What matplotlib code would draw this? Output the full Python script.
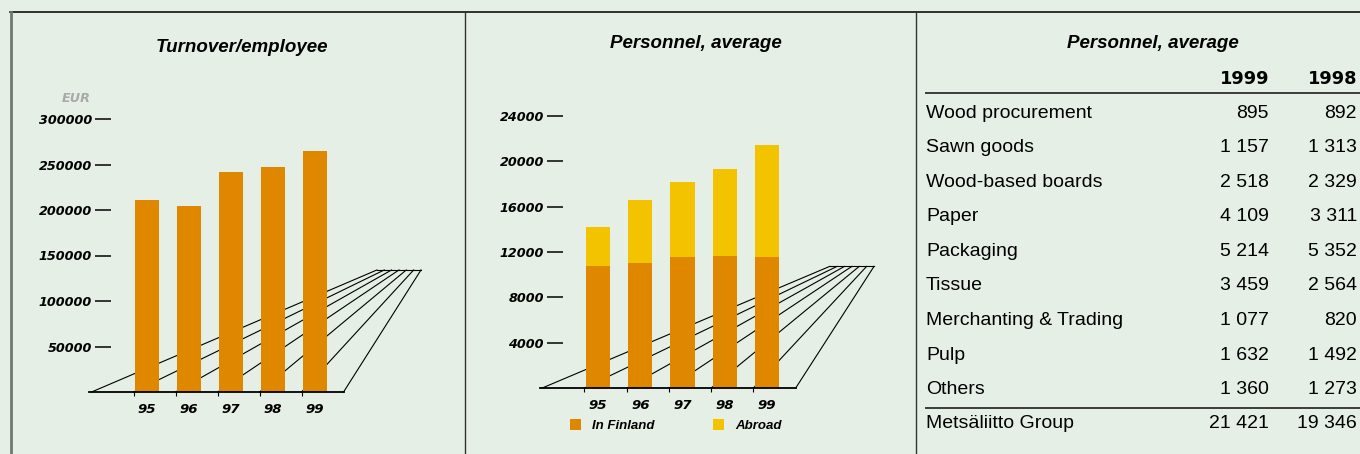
import numpy as np
import matplotlib
matplotlib.use('Agg')
import matplotlib.pyplot as plt
from matplotlib.lines import Line2D

W, H = 1360, 454

# Turnover per employee, EUR
years = ['95', '96', '97', '98', '99']
turnover_per_employee = [211000, 204500, 242000, 247500, 265000]
turnover_ticks = [50000, 100000, 150000, 200000, 250000, 300000]

# Average personnel, split by location
personnel_finland = [10800, 11050, 11550, 11650, 11550]
personnel_abroad = [3400, 5550, 6650, 7696, 9871]
personnel_ticks = [4000, 8000, 12000, 16000, 20000, 24000]

# Personnel by business area
segments = ['Wood procurement', 'Sawn goods', 'Wood-based boards', 'Paper',
            'Packaging', 'Tissue', 'Merchanting & Trading', 'Pulp', 'Others']
staff_1999 = [895, 1157, 2518, 4109, 5214, 3459, 1077, 1632, 1360]
staff_1998 = [892, 1313, 2329, 3311, 5352, 2564, 820, 1492, 1273]

BG = '#e6efe6'
ORANGE = '#e08700'
YELLOW = '#f3c300'
BOLD_IT = dict(family='DejaVu Sans', weight='bold', style='italic')
TITLE = dict(family='Liberation Sans', weight='bold', style='italic', size=13.5)


def fx(x):
    return x / W


def fy(y):
    return 1 - y / H


def fmt(v):
    return f'{v:,}'.replace(',', ' ')


def add_chart(fig, left, right, base, top, first_px, step_px, ymax):
    # x in data units is the bar index, y is the value
    ax = fig.add_axes([fx(left), fy(base), (right - left) / W, (base - top) / H])
    ax.set_xlim((left - first_px) / step_px, (right - first_px) / step_px)
    ax.set_ylim(0, ymax)
    ax.patch.set_visible(False)
    for s in ax.spines.values():
        s.set_visible(False)
    return ax


def draw_floor(ax, n):
    x0, x1 = ax.get_xlim()
    ymax = ax.get_ylim()[1]
    front = np.arange(-1, n + 1) - 0.32
    back = np.linspace(x1 - 1.05, x1, len(front))
    depth = 0.447 * ymax
    for a, b in zip(front, back):
        ax.plot([a, b], [0, depth], color='black', lw=0.8, zorder=1, clip_on=False)
    ax.plot([back[0], back[-1]], [depth, depth], color='black', lw=0.8, zorder=1, clip_on=False)
    ax.plot([front[0] - 0.06, front[-1]], [0, 0], color='black', lw=1.3, zorder=4, clip_on=False)
    ax.set_xticks(front[1:-1], minor=True)
    ax.tick_params(axis='x', which='minor', length=3, width=0.8, color='black')


def style_axes(ax, ticks):
    ax.set_xticks(range(len(years)), labels=years, fontsize=9.6, **BOLD_IT)
    ax.tick_params(axis='x', which='major', length=0, pad=8)
    ax.set_yticks(ticks, labels=[str(t) for t in ticks], fontsize=9.2, **BOLD_IT)
    ax.tick_params(axis='y', length=11.5, width=1.4, color='#333333', pad=2.2)


fig = plt.figure(figsize=(W / 100, H / 100), dpi=100, facecolor=BG)

# left: turnover/employee
ax1 = add_chart(fig, 111, 421, 392, 119, 147, 42, 300000)
ax1.bar(range(len(years)), turnover_per_employee, width=0.57, color=ORANGE, zorder=3)
draw_floor(ax1, len(years))
style_axes(ax1, turnover_ticks)
fig.text(fx(242), fy(47), 'Turnover/employee', ha='center', va='center', **TITLE)
fig.text(fx(91), fy(99), 'EUR', ha='right', va='center', color='#a9a9a9', fontsize=9.2, **BOLD_IT)

# middle: personnel stacked
ax2 = add_chart(fig, 563, 874, 388, 116, 598, 42.25, 24000)
b1 = ax2.bar(range(len(years)), personnel_finland, width=0.57, color=ORANGE, zorder=3)
b2 = ax2.bar(range(len(years)), personnel_abroad, bottom=personnel_finland,
             width=0.57, color=YELLOW, zorder=3)
draw_floor(ax2, len(years))
style_axes(ax2, personnel_ticks)
fig.text(fx(696), fy(43), 'Personnel, average', ha='center', va='center', **TITLE)
ax2.legend([b1, b2], ['In Finland', 'Abroad'], ncol=2, loc='upper left',
           bbox_to_anchor=(fx(570), fy(419)), bbox_transform=fig.transFigure,
           frameon=False, handlelength=0.85, handleheight=0.85, handletextpad=0.85,
           columnspacing=4.4, borderpad=0, borderaxespad=0,
           prop=dict(family='Liberation Sans', weight='bold', style='italic', size=9.5))

# right: table
fig.text(fx(1153), fy(44), 'Personnel, average', ha='center', va='center', **TITLE)
head = dict(family='DejaVu Sans', weight='bold', size=12.8, ha='right', va='center')
fig.text(fx(1269), fy(79), '1999', **head)
fig.text(fx(1357), fy(79), '1998', **head)
body = dict(family='Liberation Sans', size=14, va='center')
row_y = 113
for name, a, b in zip(segments, staff_1999, staff_1998):
    fig.text(fx(926), fy(row_y), name, ha='left', **body)
    fig.text(fx(1269), fy(row_y), fmt(a), ha='right', **body)
    fig.text(fx(1357), fy(row_y), fmt(b), ha='right', **body)
    row_y += 34.6
fig.text(fx(926), fy(424), 'Metsäliitto Group', ha='left', **body)
fig.text(fx(1269), fy(424), fmt(sum(staff_1999)), ha='right', **body)
fig.text(fx(1357), fy(424), fmt(sum(staff_1998)), ha='right', **body)

# rules and frame
def rule(x0, y0, x1, y1, color, lw):
    fig.add_artist(Line2D([fx(x0), fx(x1)], [fy(y0), fy(y1)], color=color, lw=lw,
                          transform=fig.transFigure))

rule(926, 93, 1360, 93, '#3c3c3c', 1.4)
rule(926, 408, 1360, 408, '#3c3c3c', 1.4)
rule(10, 12, 1360, 12, '#111111', 1.2)
rule(11, 12, 11, 454, '#6f7a6f', 2)
rule(465, 12, 465, 454, '#333333', 1)
rule(916, 12, 916, 454, '#333333', 1)

fig.savefig('out.png', dpi=100, facecolor=BG)
